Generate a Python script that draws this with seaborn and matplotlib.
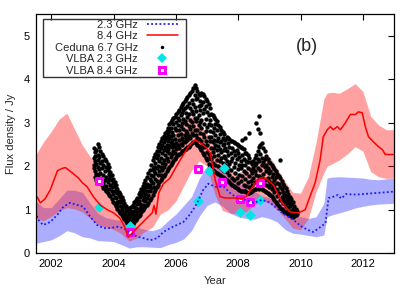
import matplotlib
matplotlib.use("Agg")
import matplotlib.pyplot as plt
from matplotlib.lines import Line2D
from matplotlib.patches import Rectangle
import seaborn as sns

# ── 2.3 GHz model curve (dotted blue) ────────────────────────────────────────
blue_t = [2001.50, 2001.58, 2001.74, 2001.97, 2002.19, 2002.39, 2002.60, 2002.83, 2003.03, 2003.25,
          2003.47, 2003.67, 2003.90, 2004.12, 2004.31, 2004.54, 2004.76, 2004.95, 2005.18, 2005.40,
          2005.60, 2005.82, 2006.03, 2006.24, 2006.46, 2006.68, 2006.87, 2007.04, 2007.26, 2007.53,
          2007.75, 2007.97, 2008.23, 2008.50, 2008.77, 2009.03, 2009.29, 2009.51, 2009.77, 2010.00,
          2010.22, 2010.41, 2010.63, 2010.80, 2010.90, 2011.05, 2011.20, 2011.30, 2011.37, 2011.45,
          2011.80, 2012.33, 2012.88, 2013.00]
blue_f = [0.95, 0.77, 0.65, 0.72, 0.88, 1.07, 1.16, 1.11, 1.07, 0.84,
          0.65, 0.58, 0.58, 0.61, 0.58, 0.47, 0.38, 0.35, 0.30, 0.35,
          0.49, 0.58, 0.65, 0.72, 0.90, 1.15, 1.45, 1.60, 1.53, 1.53,
          1.38, 1.27, 1.23, 1.16, 1.23, 1.16, 1.00, 0.88, 0.77, 0.63,
          0.54, 0.49, 0.60, 0.69, 1.27, 1.30, 1.34, 1.26, 1.30, 1.36,
          1.35, 1.38, 1.41, 1.42]

# ── 8.4 GHz model curve (solid red) ──────────────────────────────────────────
red_t = [2001.50, 2001.65, 2001.80, 2001.97, 2002.20, 2002.35, 2002.45, 2002.55, 2002.67, 2002.87,
         2003.00, 2003.15, 2003.35, 2003.57, 2003.80, 2004.00, 2004.20, 2004.35, 2004.47, 2004.63,
         2004.85, 2005.07, 2005.24, 2005.30, 2005.36, 2005.45, 2005.60, 2005.80, 2005.98, 2006.20,
         2006.40, 2006.62, 2006.78, 2006.94, 2007.10, 2007.26, 2007.42, 2007.60, 2007.90, 2008.10,
         2008.25, 2008.40, 2008.55, 2008.70, 2008.87, 2009.13, 2009.41, 2009.67, 2009.93, 2010.15,
         2010.30, 2010.47, 2010.63, 2010.73, 2010.86, 2010.96, 2011.05, 2011.18, 2011.28, 2011.44,
         2011.60, 2011.76, 2011.86, 2011.98, 2012.08, 2012.18, 2012.34, 2012.50, 2012.63, 2012.72,
         2013.00]
red_f = [1.35, 1.16, 1.25, 1.46, 1.90, 1.95, 1.97, 1.92, 1.85, 1.73,
         1.62, 1.53, 1.30, 1.11, 1.00, 0.93, 0.81, 0.62, 0.37, 0.49,
         0.65, 0.81, 0.93, 1.10, 0.90, 1.39, 1.60, 1.72, 1.95, 2.22,
         2.45, 2.61, 2.54, 2.45, 2.31, 1.69, 1.30, 1.27, 1.27, 1.25,
         1.30, 1.46, 1.62, 1.73, 1.73, 1.57, 1.16, 0.95, 0.93, 1.00,
         1.30, 1.62, 2.15, 2.68, 2.84, 2.91, 2.84, 2.91, 2.84, 3.00,
         3.19, 3.19, 3.25, 3.23, 2.91, 2.68, 2.56, 2.45, 2.38, 2.27,
         2.27]

# ── uncertainty bands (shared time grid) ─────────────────────────────────────
band_t = [2001.50, 2001.75, 2002.00, 2002.25, 2002.50, 2002.75, 2003.00, 2003.25, 2003.50, 2003.75,
          2004.00, 2004.25, 2004.50, 2004.75, 2005.00, 2005.25, 2005.50, 2005.75, 2006.00, 2006.25,
          2006.50, 2006.75, 2007.00, 2007.25, 2007.50, 2007.75, 2008.00, 2008.25, 2008.50, 2008.75,
          2009.00, 2009.25, 2009.50, 2009.75, 2010.00, 2010.25, 2010.50, 2010.75, 2010.85, 2011.00,
          2011.25, 2011.50, 2011.75, 2012.00, 2012.25, 2012.50, 2012.75, 2013.00]
red_hi = [2.26, 2.56, 2.80, 3.08, 3.22, 2.85, 2.48, 2.22, 1.95, 1.62,
          1.25, 1.05, 0.86, 1.07, 1.25, 1.50, 1.90, 2.45, 2.80, 3.08,
          3.15, 3.00, 2.75, 2.35, 2.00, 1.90, 1.85, 1.92, 2.10, 2.22,
          2.23, 1.95, 1.65, 1.40, 1.38, 1.75, 2.55, 3.55, 3.68, 3.70,
          3.68, 3.78, 3.90, 3.72, 3.15, 2.95, 2.84, 2.84]
red_lo = [0.80, 0.75, 0.85, 0.98, 1.05, 1.02, 0.95, 0.80, 0.65, 0.60,
          0.55, 0.45, 0.28, 0.35, 0.50, 0.60, 0.90, 1.00, 1.20, 1.55,
          1.90, 2.12, 2.00, 1.35, 0.98, 0.92, 0.92, 0.95, 1.10, 1.22,
          1.15, 1.00, 0.80, 0.58, 0.54, 0.80, 1.42, 1.85, 2.00, 2.05,
          2.15, 2.28, 2.45, 2.35, 1.88, 1.76, 1.72, 1.73]
blue_hi = [1.20, 1.05, 1.05, 1.25, 1.45, 1.45, 1.40, 1.15, 0.92, 0.82,
           0.78, 0.75, 0.68, 0.60, 0.55, 0.52, 0.58, 0.75, 0.90, 1.10,
           1.30, 1.72, 2.00, 2.05, 1.90, 1.76, 1.62, 1.52, 1.44, 1.32,
           1.28, 1.20, 1.05, 0.92, 0.84, 0.80, 0.84, 1.15, 1.73, 1.75,
           1.76, 1.75, 1.74, 1.73, 1.70, 1.69, 1.71, 1.73]
blue_lo = [0.23, 0.27, 0.31, 0.40, 0.52, 0.47, 0.38, 0.35, 0.29, 0.28,
           0.27, 0.20, 0.12, 0.15, 0.15, 0.14, 0.13, 0.20, 0.25, 0.33,
           0.52, 0.85, 1.10, 1.18, 1.08, 0.92, 0.84, 0.80, 0.78, 0.84,
           0.80, 0.72, 0.55, 0.46, 0.44, 0.41, 0.38, 0.42, 0.84, 0.88,
           0.93, 0.98, 1.04, 1.08, 1.11, 1.13, 1.14, 1.15]

ceduna = [
    (2003.36, [2.41, 2.02, 2.19, 1.97]),
    (2003.40, [1.76, 2.33, 1.90, 2.11, 2.24]),
    (2003.45, [2.38, 1.68, 2.05, 1.83]),
    (2003.49, [1.99, 2.52, 1.72, 2.27, 2.14, 1.80]),
    (2003.54, [2.21, 1.64, 2.45, 1.93]),
    (2003.58, [1.85, 2.36, 1.61, 2.08, 1.70]),
    (2003.63, [2.29, 1.97, 1.56, 2.13]),
    (2003.67, [1.62, 2.03, 1.50, 1.79, 2.24]),
    (2003.72, [2.17, 1.88, 1.47, 1.69]),
    (2003.76, [1.55, 2.12, 1.76, 1.42, 1.98]),
    (2003.81, [1.92, 1.38, 1.64, 2.06]),
    (2003.85, [1.47, 1.83, 1.35, 1.99, 1.70]),
    (2003.90, [1.77, 1.31, 1.58, 1.86]),
    (2003.94, [1.25, 1.69, 1.43, 1.80, 1.52]),
    (2003.99, [1.62, 1.19, 1.37, 1.70]),
    (2004.03, [1.30, 1.13, 1.55, 1.64, 1.44]),
    (2004.08, [1.49, 1.08, 1.27, 1.57]),
    (2004.12, [1.02, 1.38, 1.18, 1.47, 1.10]),
    (2004.17, [1.33, 0.97, 1.21, 1.40]),
    (2004.21, [1.08, 0.92, 1.29, 1.17, 1.36]),
    (2004.26, [0.87, 1.24, 1.01, 1.30]),
    (2004.30, [1.15, 0.83, 0.96, 1.23, 1.06]),
    (2004.35, [0.78, 1.11, 0.90, 1.16]),
    (2004.39, [0.97, 0.74, 1.09, 0.84, 1.03]),
    (2004.44, [0.70, 1.02, 0.88, 0.76]),
    (2004.48, [0.93, 0.66, 1.05, 0.81, 0.72]),
    (2004.53, [0.64, 0.99, 0.75, 0.87]),
    (2004.57, [0.85, 1.07, 0.63, 0.94, 0.70]),
    (2004.62, [1.10, 0.68, 0.91, 0.79]),
    (2004.66, [0.72, 1.17, 0.98, 0.83, 1.06]),
    (2004.71, [0.89, 1.22, 0.76, 1.04]),
    (2004.75, [1.28, 0.80, 1.13, 0.95, 1.19]),
    (2004.80, [0.85, 1.02, 1.36, 1.21]),
    (2004.84, [1.41, 1.14, 0.89, 1.29, 0.99]),
    (2004.89, [0.94, 1.48, 1.07, 1.33]),
    (2004.93, [1.22, 1.55, 0.99, 1.40, 1.11]),
    (2004.98, [1.61, 1.04, 1.29, 1.47]),
    (2005.02, [1.09, 1.52, 1.68, 1.21, 1.37]),
    (2005.07, [1.44, 1.12, 1.75, 1.28, 1.60]),
    (2005.11, [1.84, 1.16, 1.53, 1.35]),
    (2005.16, [1.22, 1.70, 1.43, 1.92, 1.58]),
    (2005.20, [1.81, 1.28, 2.03, 1.49, 1.66]),
    (2005.25, [1.35, 1.93, 1.61, 2.14, 1.77]),
    (2005.29, [2.21, 1.53, 1.41, 1.88, 1.99]),
    (2005.34, [1.70, 2.29, 1.46, 2.07, 1.84]),
    (2005.38, [1.53, 1.96, 2.36, 1.67, 2.18]),
    (2005.43, [2.44, 1.79, 1.58, 2.27, 2.01]),
    (2005.47, [1.64, 2.13, 2.51, 1.90, 2.35]),
    (2005.52, [2.58, 1.69, 2.20, 1.98, 2.41, 1.81]),
    (2005.56, [1.74, 2.49, 2.07, 2.64, 1.92, 2.31]),
    (2005.61, [2.15, 1.78, 2.70, 2.38, 1.99, 2.56]),
    (2005.65, [1.83, 2.62, 2.26, 2.77, 2.05, 2.44]),
    (2005.70, [2.50, 1.88, 2.19, 2.82, 2.34, 2.68]),
    (2005.74, [1.94, 2.73, 2.40, 2.12, 2.88, 2.57]),
    (2005.79, [2.31, 2.96, 1.99, 2.64, 2.47, 2.80]),
    (2005.83, [2.04, 2.53, 3.02, 2.22, 2.87, 2.70]),
    (2005.88, [2.79, 2.08, 2.44, 3.06, 2.61, 2.29]),
    (2005.92, [2.13, 2.96, 2.35, 2.72, 3.11, 2.52]),
    (2005.97, [2.62, 2.17, 3.14, 2.46, 2.89, 2.31]),
    (2006.01, [2.22, 2.83, 2.54, 3.21, 2.39, 3.02]),
    (2006.06, [3.25, 2.71, 2.26, 2.95, 2.48, 3.11]),
    (2006.10, [2.29, 3.06, 2.61, 3.30, 2.84, 2.41]),
    (2006.15, [2.93, 2.30, 3.36, 2.52, 3.17, 2.74]),
    (2006.19, [2.35, 2.66, 3.22, 2.99, 3.41, 2.50]),
    (2006.24, [3.08, 2.34, 2.85, 3.45, 2.59, 3.29]),
    (2006.28, [2.40, 3.35, 2.72, 3.51, 3.03, 2.56]),
    (2006.33, [2.97, 2.39, 3.55, 2.64, 3.23, 2.81]),
    (2006.37, [2.45, 3.14, 2.77, 3.60, 3.39, 2.60]),
    (2006.42, [3.46, 2.44, 2.92, 3.63, 2.69, 3.20]),
    (2006.46, [2.49, 3.33, 2.66, 3.68, 3.07, 2.85]),
    (2006.51, [3.01, 2.53, 3.74, 2.76, 3.52, 3.27]),
    (2006.55, [2.56, 3.44, 2.93, 3.81, 2.71, 3.19]),
    (2006.60, [3.63, 2.57, 3.10, 3.86, 2.84, 3.36]),
    (2006.64, [2.54, 3.27, 2.72, 3.80, 3.05, 3.54]),
    (2006.69, [3.12, 2.50, 3.58, 2.83, 3.73, 2.66]),
    (2006.73, [2.47, 3.39, 2.95, 3.67, 2.62, 3.18]),
    (2006.78, [3.50, 2.42, 2.77, 3.29, 3.63, 3.01]),
    (2006.82, [2.37, 3.06, 3.69, 2.58, 3.41, 2.88]),
    (2006.87, [3.22, 2.31, 3.66, 2.73, 2.49, 3.47]),
    (2006.91, [2.25, 2.96, 3.61, 2.44, 3.31, 2.67]),
    (2006.96, [3.39, 2.19, 2.81, 3.55, 2.58, 3.08]),
    (2007.00, [2.14, 3.25, 2.49, 3.50, 2.90, 2.33]),
    (2007.05, [2.97, 2.06, 3.43, 2.68, 2.29, 3.18]),
    (2007.09, [2.01, 2.57, 3.34, 2.21, 3.06, 2.80]),
    (2007.14, [3.21, 1.95, 2.42, 2.94, 2.16, 2.67]),
    (2007.18, [1.92, 2.79, 2.33, 3.18, 2.55, 2.08]),
    (2007.23, [2.61, 1.89, 3.13, 2.24, 2.87, 2.43]),
    (2007.27, [1.87, 2.98, 2.50, 2.04, 3.08, 2.71]),
    (2007.32, [2.37, 1.85, 2.83, 3.04, 2.15, 2.58]),
    (2007.36, [1.83, 2.66, 2.27, 2.95, 2.01, 2.46]),
    (2007.41, [2.90, 1.80, 2.39, 2.11, 2.74, 2.55]),
    (2007.45, [1.78, 2.58, 1.97, 2.84, 2.33, 2.19]),
    (2007.50, [2.48, 1.75, 2.79, 2.07, 2.65, 1.91]),
    (2007.54, [1.73, 2.24, 2.74, 1.89, 2.52, 2.38]),
    (2007.59, [2.61, 1.71, 2.03, 2.42, 2.18]),
    (2007.63, [1.69, 2.34, 2.68, 1.86, 2.11]),
    (2007.68, [2.27, 1.66, 2.53, 1.95, 2.66]),
    (2007.72, [1.63, 2.45, 2.06, 2.63, 1.80]),
    (2007.77, [2.59, 1.60, 1.91, 2.30, 2.12]),
    (2007.81, [1.58, 2.20, 2.58, 1.74, 2.41]),
    (2007.86, [2.36, 1.55, 2.56, 1.98, 1.69]),
    (2007.90, [1.53, 1.85, 2.27, 2.53, 2.07]),
    (2007.95, [2.17, 1.50, 2.51, 1.72, 2.38]),
    (2007.99, [1.48, 2.31, 1.93, 2.48, 1.62]),
    (2008.04, [2.46, 1.46, 1.80, 2.22, 2.03]),
    (2008.08, [1.44, 2.12, 2.44, 1.67, 1.96]),
    (2008.13, [2.02, 1.44, 2.41, 1.77, 2.61, 2.26]),
    (2008.17, [1.42, 1.89, 2.39, 1.58, 2.17]),
    (2008.22, [2.30, 1.43, 1.70, 2.66, 2.04]),
    (2008.26, [1.41, 2.11, 1.84, 2.31, 1.55]),
    (2008.31, [1.96, 1.39, 2.25, 1.63, 2.09]),
    (2008.35, [1.38, 1.77, 2.18, 1.52, 2.77]),
    (2008.40, [2.10, 1.41, 1.67, 1.92]),
    (2008.44, [1.43, 1.84, 2.06, 1.58]),
    (2008.49, [1.97, 1.45, 1.72, 2.11]),
    (2008.53, [1.47, 2.18, 1.63, 1.89, 2.03]),
    (2008.58, [2.26, 1.48, 1.81, 2.07, 3.00]),
    (2008.62, [1.49, 1.96, 2.35, 1.69, 2.86, 2.17]),
    (2008.67, [2.44, 1.47, 2.11, 1.78, 3.15]),
    (2008.71, [1.49, 2.28, 1.91, 2.49, 2.76, 1.64]),
    (2008.76, [2.53, 1.48, 1.73, 2.19, 2.02]),
    (2008.80, [1.46, 2.09, 2.41, 1.83, 1.60]),
    (2008.85, [2.34, 1.43, 1.69, 1.98, 2.16]),
    (2008.89, [1.41, 1.88, 2.23, 1.56, 2.04]),
    (2008.94, [2.16, 1.38, 1.73, 1.95]),
    (2008.98, [1.36, 1.84, 2.10, 1.52, 1.67]),
    (2009.03, [2.07, 1.34, 1.59, 1.90]),
    (2009.07, [1.31, 1.75, 2.03, 1.47, 1.62]),
    (2009.12, [1.98, 1.28, 1.53, 1.83]),
    (2009.16, [1.23, 1.69, 1.94, 1.40, 1.56]),
    (2009.21, [1.89, 1.18, 1.47, 1.75]),
    (2009.25, [1.14, 1.61, 1.83, 1.32, 1.46]),
    (2009.30, [1.77, 1.09, 1.38, 1.59]),
    (2009.34, [1.04, 1.52, 1.73, 1.22, 2.15]),
    (2009.39, [1.66, 1.01, 1.29, 1.48]),
    (2009.43, [0.99, 1.41, 1.60, 1.16, 1.27]),
    (2009.48, [1.55, 0.96, 1.21, 1.37]),
    (2009.52, [0.95, 1.31, 1.51, 1.09]),
    (2009.57, [1.44, 0.92, 1.15, 1.26]),
    (2009.61, [0.91, 1.22, 1.36, 1.03]),
    (2009.66, [1.30, 0.88, 1.08, 1.17]),
    (2009.70, [0.86, 1.14, 1.25, 0.98]),
    (2009.75, [1.18, 0.84, 1.02, 0.93]),
    (2009.79, [0.85, 1.09, 0.96]),
    (2009.84, [1.01, 0.88, 0.94]),
    (2009.88, [0.90, 0.97]),
]

# ── VLBA epochs ──────────────────────────────────────────────────────────────
vlba23_t = [2003.52, 2004.54, 2006.71, 2007.05, 2007.53, 2008.07, 2008.39, 2008.69]
vlba23_f = [1.07, 0.62, 1.20, 1.88, 1.96, 0.96, 0.88, 1.23]
vlba84_t = [2003.52, 2004.54, 2006.71, 2007.48, 2008.07, 2008.37, 2008.69]
vlba84_f = [1.67, 0.48, 1.93, 1.63, 1.25, 1.17, 1.62]

ced_t = [t for t, fl in ceduna for _ in fl]
ced_f = [f for _, fl in ceduna for f in fl]

# ── style ────────────────────────────────────────────────────────────────────
sns.set_style("white")
plt.rcParams["font.family"] = ["Liberation Sans", "DejaVu Sans"]
plt.rcParams["font.size"] = 8

BLUE = "#1a1aff"
RED = "#ff0000"
CYAN = "#00e5e5"
MAGENTA = "#ff00ff"

fig = plt.figure(figsize=(4.15, 2.91), dpi=100)
ax = fig.add_axes([0.086, 0.1296, 0.8634, 0.8224])

ax.fill_between(band_t, blue_lo, blue_hi, color="#0000ff", alpha=0.32, lw=0)
ax.fill_between(band_t, red_lo, red_hi, color="#ff2020", alpha=0.42, lw=0)

sns.lineplot(x=blue_t, y=blue_f, ax=ax, color=BLUE, lw=1.3,
             linestyle=(0, (1, 1.3)), sort=False, estimator=None)
sns.lineplot(x=red_t, y=red_f, ax=ax, color=RED, lw=1.1, sort=False, estimator=None)
sns.scatterplot(x=ced_t, y=ced_f, ax=ax, color="black", s=10, linewidth=0)
sns.scatterplot(x=vlba23_t, y=vlba23_f, ax=ax, color=CYAN, marker="D", s=30, linewidth=0)
sns.scatterplot(x=vlba84_t, y=vlba84_f, ax=ax, marker="s", s=24,
                facecolor="white", edgecolor=MAGENTA, linewidth=2.2)

ax.set_xlim(2001.5, 2013.0)
ax.set_ylim(0, 5.5)
ax.set_xticks([2002, 2004, 2006, 2008, 2010, 2012])
ax.set_yticks([0, 1, 2, 3, 4, 5])
ax.tick_params(direction="in", length=4, width=0.8, top=True, right=True,
               labelsize=8, pad=4, colors="black")
for sp in ax.spines.values():
    sp.set_color("black")
    sp.set_linewidth(0.9)

ax.set_xlabel("Year", fontsize=8, labelpad=5)
ax.set_ylabel("Flux density / Jy", fontsize=8, labelpad=6)
ax.text(2010.21, 4.76, "(b)", fontsize=13, ha="center", va="center")

# legend: labels right-aligned, keys on the right, square frame
handles = [
    Line2D([], [], color=BLUE, lw=1.3, linestyle=(0, (1, 1.3))),
    Line2D([], [], color=RED, lw=1.1),
    Line2D([], [], color="black", marker="o", ms=2.5, ls="none", mew=0),
    Line2D([], [], color=CYAN, marker="D", ms=5.4, ls="none", mew=0),
    Line2D([], [], marker="s", ms=4.9, ls="none", mfc="white", mec=MAGENTA, mew=2.2),
]
labels = ["2.3 GHz", "8.4 GHz", "Ceduna 6.7 GHz", "VLBA 2.3 GHz", "VLBA 8.4 GHz"]
ax.legend(handles, labels, loc="upper right", bbox_to_anchor=(0.397, 0.976),
          markerfirst=False, frameon=False, fontsize=8, borderpad=0,
          borderaxespad=0, handlelength=2.8, handletextpad=0.8, labelspacing=0.14)
ax.add_patch(Rectangle((0.0195, 0.738), 0.40, 0.241, transform=ax.transAxes,
                       fill=False, edgecolor="#333333", lw=1.0, zorder=5))

fig.savefig("out.png", dpi=100)
